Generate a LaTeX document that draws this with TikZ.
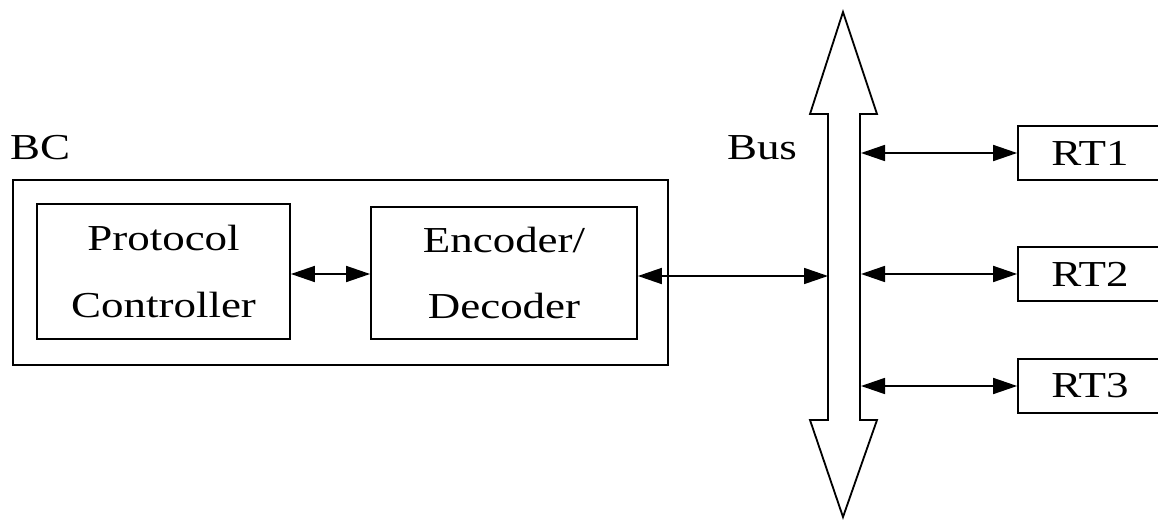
\documentclass[tikz,border=0pt]{standalone}
\usepackage{fontspec}
\setmainfont{Liberation Serif}[FakeStretch=1.23]
\usetikzlibrary{positioning,arrows.meta}

\begin{document}
\begin{tikzpicture}[x=0.025cm,y=-0.025cm,
  box/.style={draw,line width=1.2pt,align=center,inner sep=0pt,
              font=\fontsize{26}{47}\selectfont},
  title/.style={inner sep=0pt,font=\fontsize{26}{30}\selectfont},
  rtbox/.style={box,minimum width=3.6cm,minimum height=1.35cm},
  conn/.style={{Triangle[length=6mm,width=4mm]}-{Triangle[length=6mm,width=4mm]},
               line width=1.2pt}
]
  \clip (0,0) rectangle (1158,520);

  % bus controller
  \node[box,minimum width=16.375cm,minimum height=4.625cm] (bc) at (340.5,272.5) {};
  \node[title] (bc label) at (40,148) {BC};
  \node[box,minimum width=6.325cm,minimum height=3.375cm] (protocol) at (163.5,271.5)
    {Protocol\\Controller};
  \node[box,minimum width=6.65cm,minimum height=3.3cm] (codec) at (504,273)
    {Encoder/\\Decoder};

  % the bus
  \draw[line width=1.3pt] (843,12) -- (877,114) -- (860,114) -- (860,420)
    -- (877,420) -- (843,517) -- (810,420) -- (828,420) -- (828,114)
    -- (810,114) -- cycle;
  \coordinate (bus west) at (828,266);
  \coordinate (bus east) at (861,266);
  \node[title] (bus label) at (762,148) {Bus};

  % remote terminals
  \node[rtbox] (rt1) at (1090,153) {RT1};
  \node[rtbox] (rt2) at (1090,274) {RT2};
  \node[rtbox] (rt3) at (1090,386) {RT3};

  \draw[conn] (protocol.east |- 0,274) -- (codec.west |- 0,274);
  \draw[conn] (codec.east |- 0,276) -- (bus west |- 0,276);
  \foreach \rt in {rt1,rt2,rt3}
    \draw[conn] (bus east |- \rt.west) -- (\rt.west);
\end{tikzpicture}
\end{document}
